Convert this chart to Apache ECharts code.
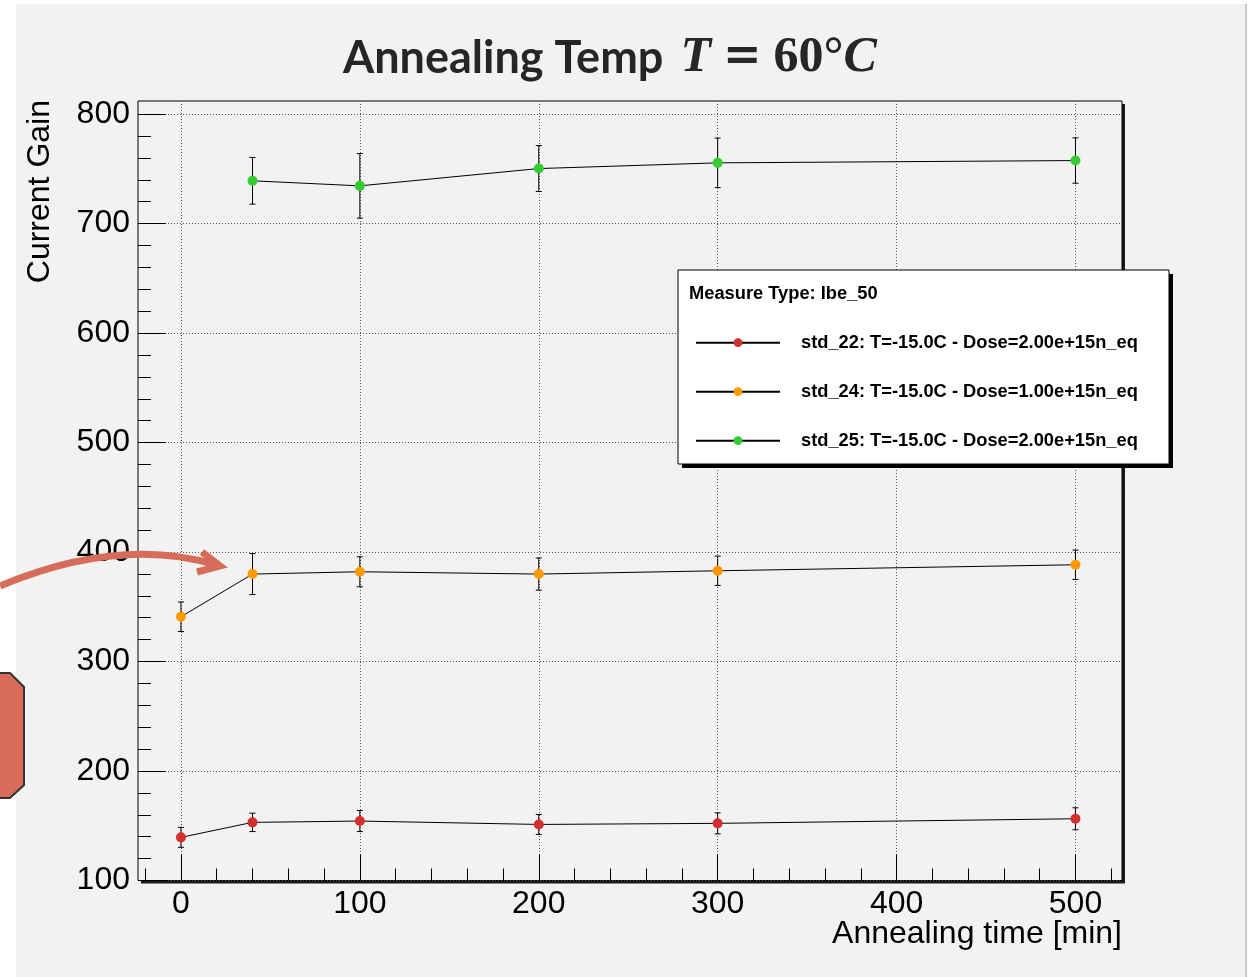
<!DOCTYPE html>
<html><head><meta charset="utf-8">
<script src="https://cdn.jsdelivr.net/npm/echarts@6/dist/echarts.min.js"></script>
<style>html,body{margin:0;padding:0;background:#fff}#c{width:1256px;height:977px}</style>
</head><body><div id="c"></div>
<script>
// ---- data ----
const titleMain = 'Annealing Temp';
const xAxisTitle = 'Annealing time [min]';
const yAxisTitle = 'Current Gain';
const legendHeader = 'Measure Type: Ibe_50';
const times = [0, 40, 100, 200, 300, 500];
const seriesNames = [
  'std_22: T=-15.0C - Dose=2.00e+15n_eq',
  'std_24: T=-15.0C - Dose=1.00e+15n_eq',
  'std_25: T=-15.0C - Dose=2.00e+15n_eq'
];
const std22Values = [139.4, 153.1, 154.3, 151.2, 152.2, 156.4];
const std22Errors = [9.1, 8.4, 9.6, 9.1, 9.6, 10.0];
const std24Values = [340.9, 379.9, 382.0, 379.9, 382.9, 388.4];
const std24Errors = [13.5, 18.7, 13.7, 14.7, 13.4, 13.4];
const std25Values = [null, 739.1, 734.5, 750.3, 755.5, 757.6];
const std25Errors = [null, 21.3, 29.5, 21.0, 22.6, 20.7];
const seriesColors = ['#d42f2f', '#ff9900', '#33cc33'];
const xMajorTicks = [0, 100, 200, 300, 400, 500];
const xMinorTicks = [-20, 20, 40, 60, 80, 120, 140, 160, 180, 220, 240, 260, 280, 320, 340, 360, 380, 420, 440, 460, 480, 520];
const yMajorTicks = [100, 200, 300, 400, 500, 600, 700, 800];
const yMinorTicks = [120, 140, 160, 180, 220, 240, 260, 280, 320, 340, 360, 380, 420, 440, 460, 480, 520, 540, 560, 580, 620, 640, 660, 680, 720, 740, 760, 780];

const valueSets = [std22Values, std24Values, std25Values];
const errorSets = [std22Errors, std24Errors, std25Errors];

const chart = echarts.init(document.getElementById('c'));
const FONT = 'Liberation Sans';

function errRender(params, api) {
  const x = api.value(0), y = api.value(1), e = api.value(2);
  const top = api.coord([x, y + e]);
  const bot = api.coord([x, y - e]);
  const w = 3;
  const style = { stroke: '#000', lineWidth: 1 };
  return { type: 'group', children: [
    { type: 'line', shape: { x1: top[0], y1: top[1], x2: bot[0], y2: bot[1] }, style: style },
    { type: 'line', shape: { x1: top[0] - w, y1: top[1], x2: top[0] + w, y2: top[1] }, style: style },
    { type: 'line', shape: { x1: bot[0] - w, y1: bot[1], x2: bot[0] + w, y2: bot[1] }, style: style }
  ]};
}

const series = [];
valueSets.forEach((vals, k) => {
  const pts = [];
  const errs = [];
  times.forEach((t, i) => {
    if (vals[i] != null) {
      pts.push([t, vals[i]]);
      errs.push([t, vals[i], errorSets[k][i]]);
    }
  });
  series.push({
    type: 'custom', name: 'err' + k, renderItem: errRender, data: errs,
    encode: { x: 0, y: 1 }, z: 2, silent: true
  });
  series.push({
    type: 'line', name: seriesNames[k], data: pts, symbol: 'circle', symbolSize: 10,
    itemStyle: { color: seriesColors[k] }, lineStyle: { color: '#000', width: 1 },
    z: 3, silent: true, animation: false
  });
});

const gridLine = { show: true, lineStyle: { color: '#555', width: 1, type: [1, 2] } };
const tickStyle = { color: '#000', width: 1 };

chart.setOption({
  animation: false,
  backgroundColor: '#ffffff',
  title: {
    text: '{a|' + titleMain + '}{m1|T}{e|=}{r|60°}{m|C}',
    left: 338, top: 28,
    textStyle: {
      fontFamily: 'Lato', fontSize: 44, fontWeight: 'bold', color: '#262626',
      rich: {
        a: { fontFamily: 'Lato', fontWeight: 'bold', fontSize: 45, color: '#262626' },
        m1: { fontFamily: 'Liberation Serif', fontStyle: 'italic', fontWeight: 'bold', fontSize: 50, color: '#262626', padding: [0, 0, 0, 17] },
        m: { fontFamily: 'Liberation Serif', fontStyle: 'italic', fontWeight: 'bold', fontSize: 50, color: '#262626' },
        e: { fontFamily: 'DejaVu Serif', fontSize: 46, color: '#262626', padding: [0, 12, 0, 12] },
        r: { fontFamily: 'Liberation Serif', fontWeight: 'bold', fontSize: 50, color: '#262626' }
      }
    }
  },
  grid: {
    left: 138, top: 101, right: 134, bottom: 96.5, show: true,
    borderColor: '#000', borderWidth: 1, backgroundColor: '#f2f2f2'
  },
  legend: {
    orient: 'vertical', left: 695, top: 332.7, padding: 0,
    itemWidth: 84, itemHeight: 11, itemGap: 29, selectedMode: false,
    data: seriesNames, z: 20,
    textStyle: { fontFamily: FONT, fontWeight: 'bold', fontSize: 18.3, color: '#000', lineHeight: 20, padding: [0, 0, 0, 16] }
  },
  xAxis: [
    {
      type: 'value', min: -24, max: 526, position: 'bottom',
      axisLine: { show: false, onZero: false },
      axisTick: { show: true, inside: true, length: 26, customValues: xMajorTicks, lineStyle: tickStyle },
      axisLabel: { customValues: xMajorTicks, fontFamily: FONT, fontSize: 32, color: '#000', margin: 8 },
      splitLine: gridLine
    },
    {
      type: 'value', min: -24, max: 526, position: 'bottom',
      axisLine: { show: false, onZero: false },
      axisTick: { show: true, inside: true, length: 12, customValues: xMinorTicks, lineStyle: tickStyle },
      axisLabel: { show: false }, splitLine: { show: false }
    }
  ],
  yAxis: [
    {
      type: 'value', min: 100, max: 812, interval: 100, position: 'left',
      axisLine: { show: false, onZero: false },
      axisTick: { show: true, inside: true, length: 28, customValues: yMajorTicks, lineStyle: tickStyle },
      axisLabel: { customValues: yMajorTicks, fontFamily: FONT, fontSize: 32, color: '#000', margin: 8 },
      splitLine: gridLine
    },
    {
      type: 'value', min: 100, max: 812, position: 'left',
      axisLine: { show: false, onZero: false },
      axisTick: { show: true, inside: true, length: 13, customValues: yMinorTicks, lineStyle: tickStyle },
      axisLabel: { show: false }, splitLine: { show: false }
    }
  ],
  series: series,
  graphic: [
    { type: 'rect', z: -10, shape: { x: 16, y: 4, width: 1229, height: 973 }, style: { fill: '#f2f2f2' } },
    { type: 'rect', z: -9, shape: { x: 1245, y: 4, width: 2, height: 973 }, style: { fill: '#c8c8c8' } },
    { type: 'rect', z: -8, shape: { x: 141, y: 104, width: 984, height: 779.5 }, style: { fill: '#1a1a1a' } },
    { type: 'text', z: 5, x: 40, y: 100, rotation: Math.PI / 2,
      style: { text: yAxisTitle, fontFamily: FONT, fontSize: 32, fill: '#000', align: 'right', verticalAlign: 'middle' } },
    { type: 'text', z: 5, x: 1122, y: 934,
      style: { text: xAxisTitle, fontFamily: FONT, fontSize: 32, fill: '#000', align: 'right', verticalAlign: 'middle' } },
    { type: 'rect', z: 9, shape: { x: 682, y: 274, width: 491, height: 194 }, style: { fill: '#000' } },
    { type: 'rect', z: 10, shape: { x: 678, y: 270, width: 491, height: 194 },
      style: { fill: '#fff', stroke: '#000', lineWidth: 1 } },
    { type: 'text', z: 11, x: 689, y: 294,
      style: { text: legendHeader, fontFamily: FONT, fontWeight: 'bold', fontSize: 18.3, fill: '#000', align: 'left', verticalAlign: 'middle' } },
    { type: 'bezierCurve', z: 30, shape: { x1: 0, y1: 586, cpx1: 120, cpy1: 536, x2: 216, y2: 565 },
      style: { stroke: '#d66c5a', lineWidth: 7, fill: null } },
    { type: 'polyline', z: 30, shape: { points: [[202, 552], [220, 566], [197, 572]] },
      style: { stroke: '#d66c5a', lineWidth: 7, fill: null, lineJoin: 'miter' } },
    { type: 'polygon', z: 30, shape: { points: [[-2, 673], [10, 673], [24, 687], [24, 785], [10, 798], [-2, 798]] },
      style: { fill: '#d86c58', stroke: '#333', lineWidth: 2 } }
  ]
});
</script></body></html>
